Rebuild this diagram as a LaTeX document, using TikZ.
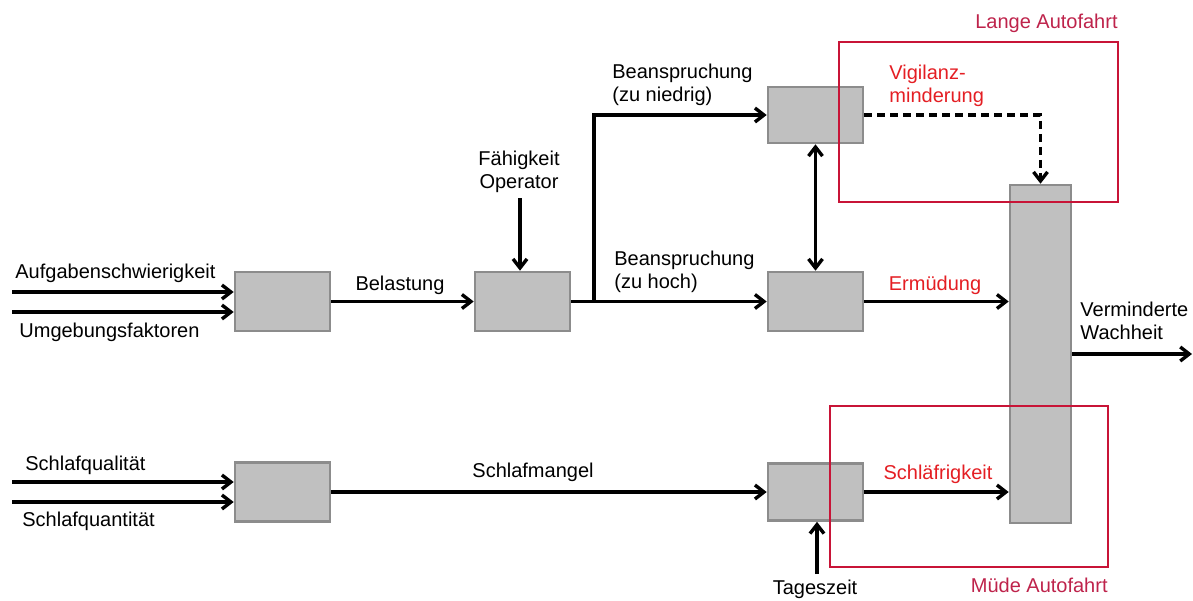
\documentclass[tikz,border=0pt]{standalone}
\usepackage{fontspec}
\setmainfont{Liberation Sans}
\usetikzlibrary{arrows.meta}
\definecolor{boxgray}{RGB}{192,192,192}
\definecolor{boxedge}{RGB}{140,140,140}
\definecolor{framered}{RGB}{200,20,55}
\definecolor{framelabel}{RGB}{190,35,75}
\definecolor{textred}{RGB}{228,30,35}
\tikzset{
  figfont/.style={font=\fontsize{10}{11.5}\selectfont},
  figlabel/.style={inner sep=0pt, align=left},
  figlabelred/.style={figlabel, text=textred},
  figbox/.style={draw=boxedge, fill=boxgray, line width=1.3pt, inner sep=0pt,
    minimum width=47.5pt, minimum height=29.5pt},
  figframe/.style={draw=framered, line width=1pt, inner sep=0pt},
  figframelabel/.style={figlabel, text=framelabel},
  figarrow/.style={-{Straight Barb[length=4.5pt,width=7pt]}, line width=1.7pt},
  figarrowboth/.style={{Straight Barb[length=4.5pt,width=7pt]}-{Straight Barb[length=4.5pt,width=7pt]}, line width=1.7pt},
  figarrowdashed/.style={figarrow, dash pattern=on 4pt off 2.5pt},
}
\begin{document}
\begin{tikzpicture}[x=0.5pt,y=-0.5pt,figfont]
  \useasboundingbox (0,0) rectangle (1193,600);

  % Processing blocks
  \node[figbox] (load) at (282.5,301.5) {};
  \node[figbox] (strain) at (522.5,301.5) {};
  \node[figbox, minimum height=28pt] (under) at (815.5,115) {};
  \node[figbox] (over) at (815.5,301.5) {};
  \node[figbox] (sleep) at (282.5,492) {};
  \node[figbox, minimum height=28.5pt] (circ) at (815.5,492) {};
  \node[figbox, minimum width=30.5pt, minimum height=169pt] (alert) at (1040.5,354) {};

  % Inputs on the left
  \coordinate (in1) at (12,292);
  \coordinate (in2) at (12,312);
  \coordinate (in3) at (12,482);
  \coordinate (in4) at (12,502);
  \draw[figarrow] (in1) -- (in1 -| load.west);
  \draw[figarrow] (in2) -- (in2 -| load.west);
  \draw[figarrow] (in3) -- (in3 -| sleep.west);
  \draw[figarrow] (in4) -- (in4 -| sleep.west);
  \node[figlabel, anchor=west] (lTask) at (15,273) {Aufgabenschwierigkeit};
  \node[figlabel, anchor=west] (lEnv) at (19,332) {Umgebungsfaktoren};
  \node[figlabel, anchor=west] (lQual) at (25,465) {Schlafqualität};
  \node[figlabel, anchor=west] (lQuant) at (22,521) {Schlafquantität};

  % Load and strain
  \draw[figarrow] (load) -- (strain);
  \node[figlabel] (lLoad) at (400,285) {Belastung};
  \coordinate (capin) at (520,198);
  \node[figlabel, align=center] (lCap) at (519,172) {Fähigkeit\\Operator};
  \draw[figarrow] (capin) -- (capin |- strain.north);
  \coordinate (split) at (594,301.5);
  \draw[figarrow] (strain.east) -- (over.west);
  \draw[figarrow] (split) |- (under.west);
  \node[figlabel, anchor=west] (lUnder) at (612,85) {Beanspruchung\\(zu niedrig)};
  \node[figlabel, anchor=west] (lOver) at (614,272) {Beanspruchung\\(zu hoch)};
  \draw[figarrowboth] (under.south) -- (over.north);

  % Sleep path
  \draw[figarrow] (sleep) -- (circ);
  \node[figlabel] (lLack) at (533,472) {Schlafmangel};
  \coordinate (tagin) at (817,574);
  \draw[figarrow] (tagin) -- (tagin |- circ.south);
  \node[figlabel] (lTime) at (815,589) {Tageszeit};

  % Into reduced alertness
  \draw[figarrowdashed] (under.east) -| (alert.north);
  \draw[figarrow] (over.east) -- (over.east -| alert.west);
  \draw[figarrow] (circ.east) -- (circ.east -| alert.west);
  \node[figlabelred, anchor=west] (lVig) at (889,86) {Vigilanz-\\minderung};
  \node[figlabelred] (lFat) at (935,285) {Ermüdung};
  \node[figlabelred] (lDrow) at (938,474) {Schläfrigkeit};
  \coordinate (out) at (1192,354);
  \draw[figarrow] (alert.east) -- (out);
  \node[figlabel, anchor=west] (lOut) at (1080,321) {Verminderte\\Wachheit};

  % Frames
  \node[figframe, minimum width=139.5pt, minimum height=80pt] (longdrive) at (978.5,122) {};
  \node[figframe, minimum width=139pt, minimum height=80.5pt] (tireddrive) at (969,486.5) {};
  \node[figframelabel, anchor=east] (lLong) at (1118,23) {Lange Autofahrt};
  \node[figframelabel, anchor=east] (lTired) at (1108,585) {Müde Autofahrt};
\end{tikzpicture}
\end{document}
